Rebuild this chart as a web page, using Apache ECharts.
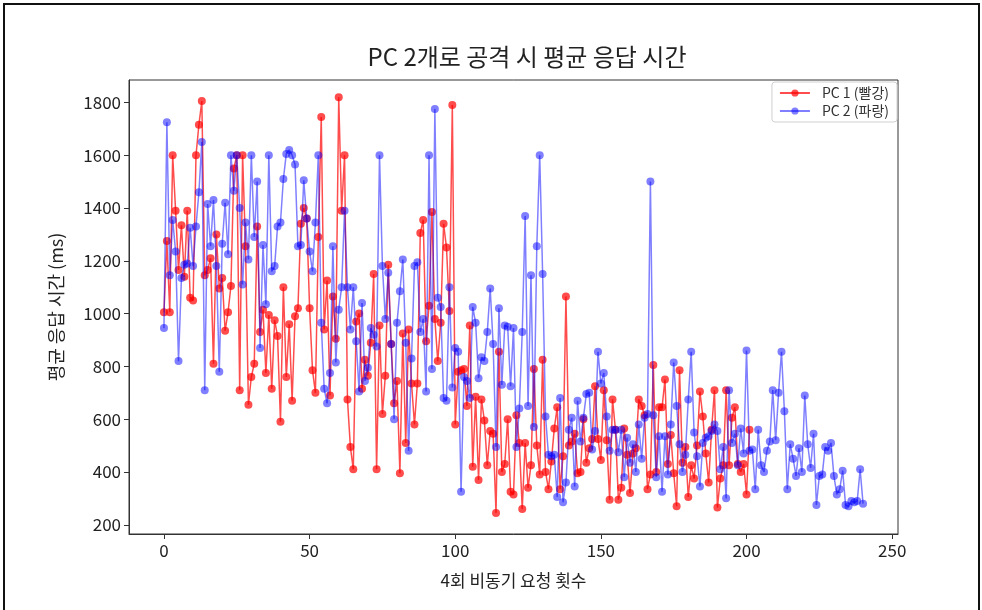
<!DOCTYPE html>
<html>
<head>
<meta charset="utf-8">
<script src="https://cdn.jsdelivr.net/npm/echarts@6/dist/echarts.min.js"></script>
<style>
html,body{margin:0;padding:0;background:#fff;}
#chart{position:absolute;left:0;top:0;width:982px;height:610px;}
#frame{position:absolute;left:3px;top:3px;width:973px;height:700px;border:2px solid #111;pointer-events:none;}
</style>
</head>
<body>
<div id="chart"></div>
<div id="frame"></div>
<script>
const titleText = 'PC 2개로 공격 시 평균 응답 시간';
const xName = '4회 비동기 요청 횟수';
const yName = '평균 응답 시간 (ms)';
const seriesNames = ['PC 1 (빨강)', 'PC 2 (파랑)'];
const xTicks = [0, 50, 100, 150, 200, 250];
const yTicks = [200, 400, 600, 800, 1000, 1200, 1400, 1600, 1800];

const pc1 = [
1005,1275,1005,1600,1390,1165,1335,1140,1390,1060,
1050,1600,1715,1805,1145,1165,1210,810,1300,1095,
1135,935,1005,1105,1550,1600,710,1600,1255,655,
760,810,1330,930,1015,775,995,715,975,915,
590,1100,760,960,670,990,1020,1340,1400,1360,
1020,785,700,1290,1745,940,1125,690,1065,905,
1820,1390,1600,675,495,410,970,1000,715,825,
765,890,1150,410,955,620,765,1185,885,660,
745,395,925,510,940,735,580,735,1305,1355,
895,1030,1385,980,820,965,1340,1250,1010,1790,
580,780,785,790,650,955,420,685,370,675,
595,425,555,545,245,855,400,430,600,325,
315,615,510,260,510,340,425,790,500,390,
825,400,335,440,565,645,335,460,1065,500,
515,545,395,400,600,435,490,525,725,525,
445,710,520,295,675,560,295,340,565,465,
320,470,490,675,650,615,335,390,805,400,
645,645,750,430,540,395,270,785,435,495,
305,425,375,500,705,610,470,360,560,710,
265,375,425,710,425,605,645,430,400,430,
315,560
];

const pc2 = [
945,1725,1145,1355,1235,820,1135,1185,1190,1325,
1180,1330,1460,1650,710,1415,1255,1430,1180,780,
1265,1420,1225,1600,1465,1600,1400,1110,1345,1205,
1600,1290,1500,870,1260,1035,1600,1160,1180,1330,
1345,1510,1605,1620,1600,1565,1255,1260,1505,1360,
1235,1160,1345,1600,965,715,660,775,1255,815,
1015,1100,1390,1100,940,1100,895,705,1040,745,
795,945,920,875,1600,1180,980,1155,885,600,
965,1085,1205,890,480,830,1180,1195,930,980,
705,1600,790,1775,1060,1025,680,670,1100,720,
870,855,325,760,745,680,1025,965,755,835,
820,930,1095,885,495,1020,730,955,950,725,
945,495,640,930,1370,650,1145,570,1255,1600,
1150,610,465,460,465,305,680,285,360,560,
605,345,670,515,605,695,700,485,555,855,
735,775,610,480,560,560,475,560,380,530,
435,505,400,580,450,605,620,1500,615,380,
535,325,535,390,580,815,650,505,400,465,
675,855,550,460,345,510,530,535,555,580,
555,410,495,300,710,510,545,425,565,470,
860,480,485,335,560,425,400,480,515,710,
520,700,855,630,335,505,450,385,490,400,
690,505,415,545,275,385,390,495,480,510,
385,315,335,405,275,270,290,285,290,410,
280
];

const toXY = arr => arr.map((v, i) => [i, v]);
const baseFont = "'Noto Sans CJK KR', 'Noto Sans', sans-serif";

const chart = echarts.init(document.getElementById('chart'), null, {renderer: 'canvas'});
chart.setOption({
  backgroundColor: '#ffffff',
  animation: false,
  textStyle: {fontFamily: baseFont},
  grid: {left: 129, right: 84, top: 80, bottom: 76, show: true, borderColor: '#333', borderWidth: 1, backgroundColor: 'transparent'},
  graphic: [{
    type: 'text', x: 527, y: 57,
    style: {text: titleText, fill: '#222', font: "24px 'Noto Sans CJK KR', sans-serif", align: 'center', verticalAlign: 'middle'}
  }],
  legend: {
    show: true,
    orient: 'vertical',
    right: 85, top: 82,
    backgroundColor: '#fff',
    borderColor: '#d0d0d0', borderWidth: 1, borderRadius: 3,
    padding: [4, 8, 4, 7],
    itemGap: 4,
    itemWidth: 30, itemHeight: 9,
    textStyle: {fontSize: 14, color: '#333', fontFamily: baseFont, padding: [0, 0, 0, 7]},
    data: seriesNames
  },
  xAxis: {
    type: 'value', min: -12, max: 252,
    name: xName, nameLocation: 'middle', nameGap: 38,
    nameTextStyle: {fontSize: 17, color: '#222', fontFamily: baseFont},
    axisLine: {show: true, onZero: false, lineStyle: {color: '#333', width: 1}},
    axisTick: {show: true, length: 5, inside: false, customValues: xTicks, lineStyle: {color: '#333'}},
    axisLabel: {customValues: xTicks, fontSize: 17, color: '#222', margin: 8, fontFamily: baseFont, formatter: v => String(v)},
    splitLine: {show: false}
  },
  yAxis: {
    type: 'value', min: 165, max: 1885,
    name: yName, nameLocation: 'middle', nameGap: 64, nameRotate: 90,
    nameTextStyle: {fontSize: 18, color: '#222', fontFamily: baseFont},
    axisLine: {show: true, onZero: false, lineStyle: {color: '#333', width: 1}},
    axisTick: {show: true, length: 5, inside: false, customValues: yTicks, lineStyle: {color: '#333'}},
    axisLabel: {customValues: yTicks, fontSize: 17, color: '#222', margin: 8, fontFamily: baseFont, formatter: v => String(v)},
    splitLine: {show: false}
  },
  series: [
    {
      name: seriesNames[0], type: 'line', data: toXY(pc1),
      symbol: 'circle', symbolSize: 8, showSymbol: true,
      lineStyle: {color: '#ff0000', width: 1.5, opacity: 0.7},
      itemStyle: {color: '#ff0000', opacity: 0.7},
      z: 2
    },
    {
      name: seriesNames[1], type: 'line', data: toXY(pc2),
      symbol: 'circle', symbolSize: 8, showSymbol: true,
      lineStyle: {color: '#0000ff', width: 1.5, opacity: 0.5},
      itemStyle: {color: '#0000ff', opacity: 0.5},
      z: 3
    }
  ]
});
</script>
</body>
</html>
